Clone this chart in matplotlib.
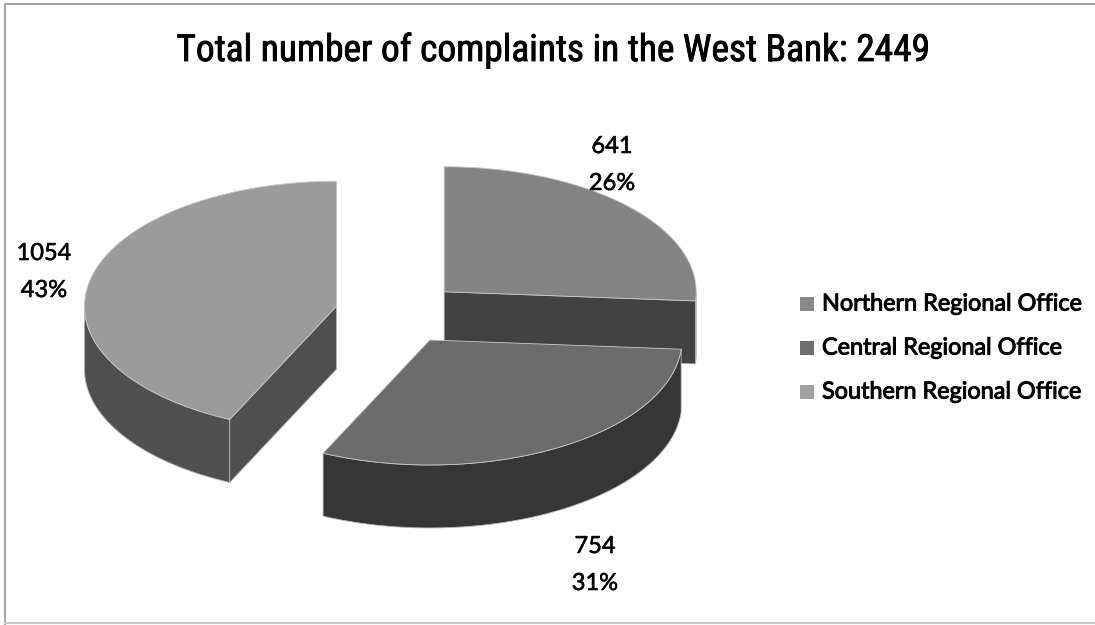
import numpy as np
import matplotlib.pyplot as plt
import matplotlib.patheffects as pe
from matplotlib import font_manager
from matplotlib.patches import Polygon, Rectangle

offices = ["Northern Regional Office", "Central Regional Office", "Southern Regional Office"]
complaints = [641, 754, 1054]

top_colors = ["#848484", "#6c6c6c", "#9b9b9b"]
side_colors = ["#424242", "#363636", "#4f4f4f"]
key_colors = ["#888888", "#6e6e6e", "#a0a0a0"]

# pie drawn straight in pixel space: centre, ellipse radii, thickness
cx, cy = 398, 313
rx, ry = 252, 125
depth = 63
explode = 0.25

names = {f.name for f in font_manager.fontManager.ttflist}
narrow = next((n for n in ["Liberation Sans Narrow", "Roboto Condensed",
                           "Open Sans Condensed", "Liberation Sans"] if n in names), "DejaVu Sans")
body = "Lato" if "Lato" in names else "DejaVu Sans"

fig = plt.figure(figsize=(10.95, 6.25), dpi=100)
ax = fig.add_axes([0, 0, 1, 1])
ax.set_xlim(0, 1095)
ax.set_ylim(625, 0)
ax.axis("off")


def rim(ox, oy, ang, dy=0.0):
    a = np.radians(np.atleast_1d(ang))
    return np.column_stack([ox + rx * np.sin(a), oy - ry * np.cos(a) + dy])


total = sum(complaints)
edges = np.concatenate([[0], np.cumsum(complaints)]) / total * 360

slices = []
for i in range(len(complaints)):
    a0, a1 = edges[i], edges[i + 1]
    mid = np.radians((a0 + a1) / 2)
    ox = cx + explode * rx * np.sin(mid)
    oy = cy - explode * ry * np.cos(mid)
    slices.append((oy, i, a0, a1, ox))

# back slices first so the front ones cover them
for oy, i, a0, a1, ox in sorted(slices):
    faces = []
    w0, w1 = max(a0, 90), min(a1, 270)
    if w0 < w1:
        t = np.linspace(w0, w1, 150)
        faces.append(np.vstack([rim(ox, oy, t), rim(ox, oy, t[::-1], depth)]))
    for a, shown in ((a0, np.sin(np.radians(a0)) < -1e-6),
                     (a1, np.sin(np.radians(a1)) > 1e-6)):
        if shown:
            p = rim(ox, oy, a)[0]
            faces.append(np.array([[ox, oy], p, p + [0, depth], [ox, oy + depth]]))
    for f in faces:
        ax.add_patch(Polygon(f, closed=True, fc=side_colors[i], ec="#b8b8b8", lw=0.6))
    t = np.linspace(a0, a1, 240)
    top = np.vstack([[ox, oy], rim(ox, oy, t)])
    ax.add_patch(Polygon(top, closed=True, fc=top_colors[i], ec="#c8c8c8", lw=0.6))

renderer = fig.canvas.get_renderer()


def fit_width(txt, width):
    w = txt.get_window_extent(renderer).width
    txt.set_fontsize(txt.get_fontsize() * width / w)


# thin outlines thicken the glyphs a little
def outline(w):
    return [pe.withStroke(linewidth=w, foreground="black")]


title = ax.text(553, 61, f"Total number of complaints in the West Bank: {total}",
                ha="center", va="baseline", fontsize=24, family=narrow,
                color="black", path_effects=outline(0.6))
fit_width(title, 754)

# value / share labels around the pie
label_xy = [(612, 153), (595, 553), (44, 260)]
for v, (x, y) in zip(complaints, label_xy):
    ax.text(x, y, f"{v}", ha="center", va="baseline", fontsize=17,
            family=body, path_effects=outline(0.4))
    ax.text(x, y + 37, f"{round(v / total * 100)}%", ha="center", va="baseline",
            fontsize=17, family=body, path_effects=outline(0.4))

# legend
for k, (name, col) in enumerate(zip(offices, key_colors)):
    yc = 304 + 44 * k
    ax.add_patch(Rectangle((800, yc - 7), 14, 14, fc=col, ec="none"))
    t = ax.text(822, yc, name, ha="left", va="center", fontsize=15,
                family=body, path_effects=outline(0.7))
    if k == 0:
        fit_width(t, 260)
        legend_size = t.get_fontsize()
    else:
        t.set_fontsize(legend_size)

# chart frame
ax.plot([4.5, 4.5, 1100], [625, 3.5, 3.5], color="#a6a6a6", lw=1.5, clip_on=False)
ax.plot([4.5, 1100], [623, 623], color="#c8c8c8", lw=1.5, clip_on=False)

fig.savefig("out.png", dpi=100)
